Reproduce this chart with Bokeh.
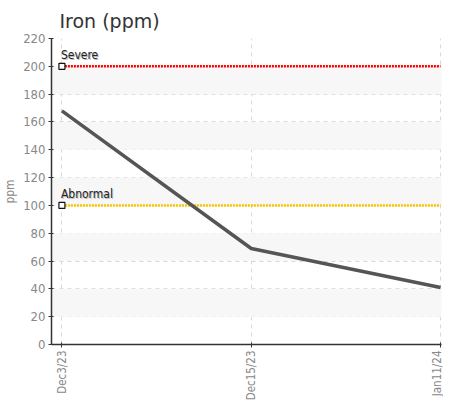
import math
from bokeh.plotting import figure
from bokeh.models import Range1d, FixedTicker, Label
from bokeh.embed import file_html
from bokeh.resources import INLINE

dates = ["Dec3/23", "Dec15/23", "Jan11/24"]
iron = [168, 69, 41]
severe = 200
abnormal = 100
y_ticks = list(range(0, 221, 20))

xs = list(range(len(dates)))
FONT = "DejaVu Sans Condensed"

p = figure(width=443, height=403, output_backend="svg", toolbar_location=None,
           x_range=Range1d(-0.055, len(dates) - 1 + 0.005), y_range=Range1d(0, 220),
           min_border_left=40, min_border_right=2, min_border_top=31, min_border_bottom=55)
p.outline_line_color = None
p.background_fill_color = "white"

p.title.text = "Iron (ppm)"
p.title.text_font = "DejaVu Sans"
p.title.text_font_size = "19px"
p.title.text_font_style = "normal"
p.title.text_color = "#333333"
p.title.offset = 8
p.title.standoff = 14

# bands
band_lo = y_ticks[1::2]
band_hi = [b + 20 for b in band_lo]
p.quad(left=-1, right=len(dates), bottom=band_lo, top=band_hi, fill_color="#f7f7f7",
       line_color=None)

p.xaxis.ticker = FixedTicker(ticks=xs)
p.xaxis.major_label_overrides = {i: d for i, d in enumerate(dates)}
p.xaxis.major_label_orientation = math.pi / 2
p.yaxis.ticker = FixedTicker(ticks=y_ticks)
p.yaxis.axis_label = "ppm"

for ax in (p.xaxis, p.yaxis):
    ax.axis_line_color = "#333333"
    ax.axis_line_width = 1.5
    ax.major_tick_line_color = "#333333"
    ax.major_tick_in = 2
    ax.major_tick_out = 3
    ax.minor_tick_line_color = None
    ax.major_label_text_font = FONT
    ax.major_label_text_color = "#888888"
    ax.axis_label_text_font = FONT
    ax.axis_label_text_font_size = "12px"
    ax.axis_label_text_color = "#888888"
    ax.axis_label_text_font_style = "normal"
    ax.axis_label_standoff = 3
    ax.major_label_standoff = 3
p.xaxis.major_label_text_font_size = "11.5px"
p.yaxis.major_label_text_font_size = "13px"

for g in (p.xgrid, p.ygrid):
    g.grid_line_color = "#d8d8d8"
    g.grid_line_dash = "4 4"
    g.grid_line_width = 1
p.xgrid.ticker = FixedTicker(ticks=xs)
p.ygrid.ticker = FixedTicker(ticks=y_ticks)

p.line([xs[0], xs[-1]], [severe, severe], line_color="#ff0000", line_width=2.5, line_dash="2 1")
p.line([xs[0], xs[-1]], [abnormal, abnormal], line_color="#f5c400", line_width=2.5, line_dash="2 1")

p.line(xs, iron, line_color="#555555", line_width=3.5)

p.scatter([xs[0], xs[0]], [severe, abnormal], marker="square", size=6, fill_color="white",
          line_color="#111111", line_width=1.2)

for txt, yv in (("Severe", severe), ("Abnormal", abnormal)):
    p.add_layout(Label(x=xs[0], y=yv, text=txt, x_offset=0, y_offset=3, text_font=FONT,
                       text_font_size="12px", text_color="#bbbbbb"))
    p.add_layout(Label(x=xs[0], y=yv, text=txt, x_offset=-1, y_offset=4, text_font=FONT,
                       text_font_size="12px", text_color="#222222"))

open("out.html", "w").write(file_html(p, INLINE))
